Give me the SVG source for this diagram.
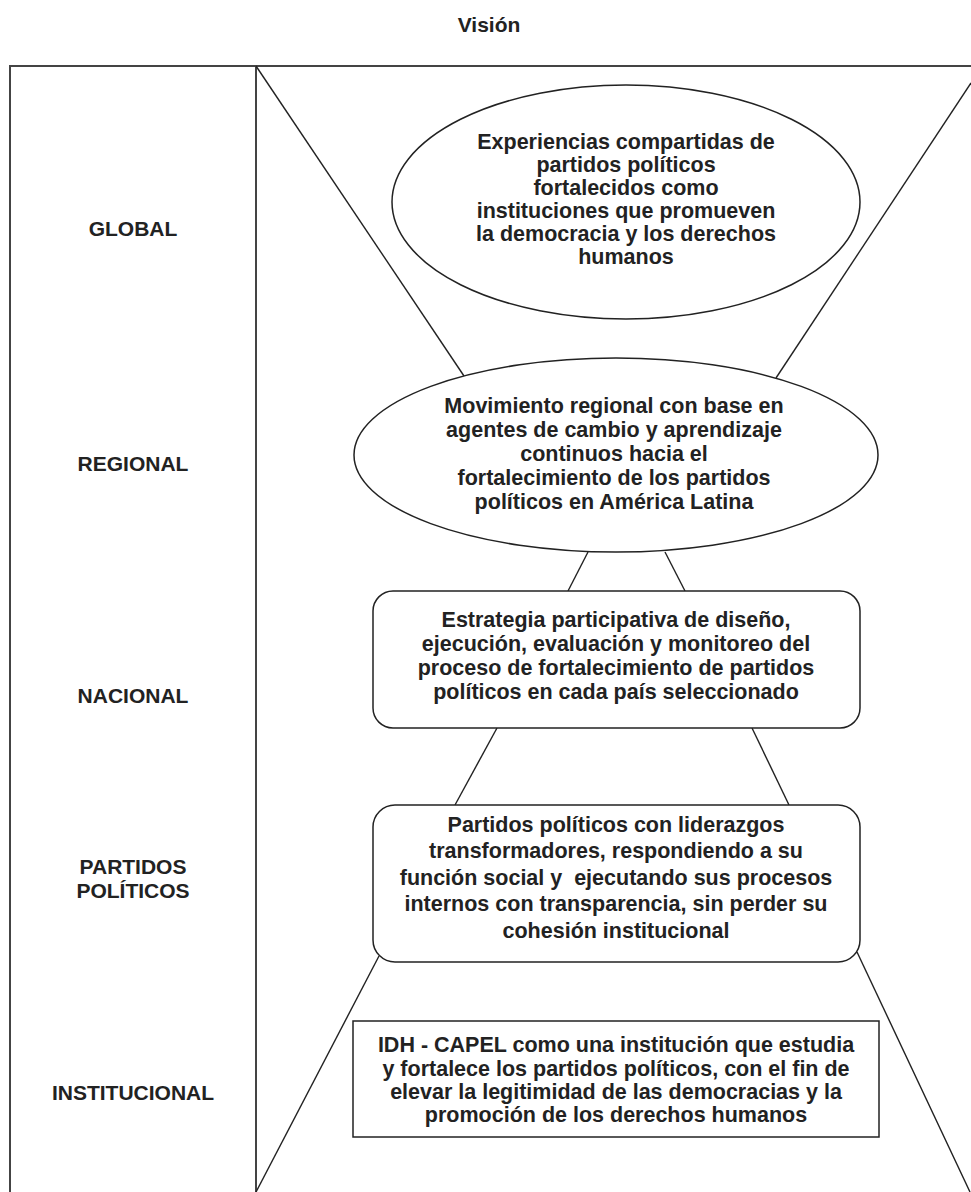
<svg xmlns="http://www.w3.org/2000/svg" width="971" height="1192" viewBox="0 0 971 1192">
<style>
.t{font-family:"Liberation Sans",Arial,sans-serif;font-weight:bold;font-size:21.5px;fill:#222;text-anchor:middle}
.lbl{font-family:"Liberation Sans",Arial,sans-serif;font-weight:bold;font-size:21px;fill:#222;text-anchor:middle}
.frame{fill:none;stroke:#444;stroke-width:2}
.shape{fill:#fff;stroke:#222;stroke-width:1.5}
.con{stroke:#222;stroke-width:1.4;fill:none}
</style>
<rect width="971" height="1192" fill="#fff"/>
<text class="lbl" x="489" y="32">Visión</text>
<g id="frame">
<path class="frame" d="M10,1193 V66 H971 M256,66 V1193"/>
</g>
<g id="connectors">
<line class="con" x1="256" y1="66" x2="464" y2="376"/>
<line class="con" x1="971" y1="83" x2="776" y2="378"/>
<line class="con" x1="588" y1="552" x2="568" y2="591"/>
<line class="con" x1="665" y1="552" x2="685" y2="591"/>
<line class="con" x1="497" y1="728" x2="455" y2="805"/>
<line class="con" x1="752" y1="728" x2="789" y2="805"/>
<line class="con" x1="379" y1="956" x2="256" y2="1192"/>
<line class="con" x1="857" y1="952" x2="970" y2="1192"/>
</g>
<g id="labels">
<text class="lbl" x="133" y="236">GLOBAL</text>
<text class="lbl" x="133" y="471">REGIONAL</text>
<text class="lbl" x="133" y="703">NACIONAL</text>
<text class="lbl" x="133" y="874">PARTIDOS</text>
<text class="lbl" x="133" y="898">POLÍTICOS</text>
<text class="lbl" x="133" y="1100">INSTITUCIONAL</text>
</g>
<g id="global">
<ellipse class="shape" cx="626" cy="202" rx="234" ry="117"/>
<text class="t" x="626" y="149">Experiencias compartidas de</text>
<text class="t" x="626" y="172">partidos políticos</text>
<text class="t" x="626" y="195">fortalecidos como</text>
<text class="t" x="626" y="218">instituciones que promueven</text>
<text class="t" x="626" y="241">la democracia y los derechos</text>
<text class="t" x="626" y="264">humanos</text>
</g>
<g id="regional">
<ellipse class="shape" cx="616" cy="455" rx="262" ry="97"/>
<text class="t" x="614" y="413">Movimiento regional con base en</text>
<text class="t" x="614" y="437">agentes de cambio y aprendizaje</text>
<text class="t" x="614" y="461">continuos hacia el</text>
<text class="t" x="614" y="485">fortalecimiento de los partidos</text>
<text class="t" x="614" y="509">políticos en América Latina</text>
</g>
<g id="nacional">
<rect class="shape" x="373" y="591" width="487" height="137" rx="20"/>
<text class="t" x="616" y="627">Estrategia participativa de diseño,</text>
<text class="t" x="616" y="651">ejecución, evaluación y monitoreo del</text>
<text class="t" x="616" y="675">proceso de fortalecimiento de partidos</text>
<text class="t" x="616" y="699">políticos en cada país seleccionado</text>
</g>
<g id="partidos">
<rect class="shape" x="373" y="805" width="487" height="157" rx="22"/>
<text class="t" x="616" y="832">Partidos políticos con liderazgos</text>
<text class="t" x="616" y="858">transformadores, respondiendo a su</text>
<text class="t" x="616" y="885" xml:space="preserve">función social y  ejecutando sus procesos</text>
<text class="t" x="616" y="911">internos con transparencia, sin perder su</text>
<text class="t" x="616" y="938">cohesión institucional</text>
</g>
<g id="institucional">
<rect class="shape" x="353" y="1021" width="526" height="116"/>
<text class="t" x="616" y="1052">IDH - CAPEL como una institución que estudia</text>
<text class="t" x="616" y="1076">y fortalece los partidos políticos, con el fin de</text>
<text class="t" x="616" y="1099">elevar la legitimidad de las democracias y la</text>
<text class="t" x="616" y="1122">promoción de los derechos humanos</text>
</g>
</svg>
